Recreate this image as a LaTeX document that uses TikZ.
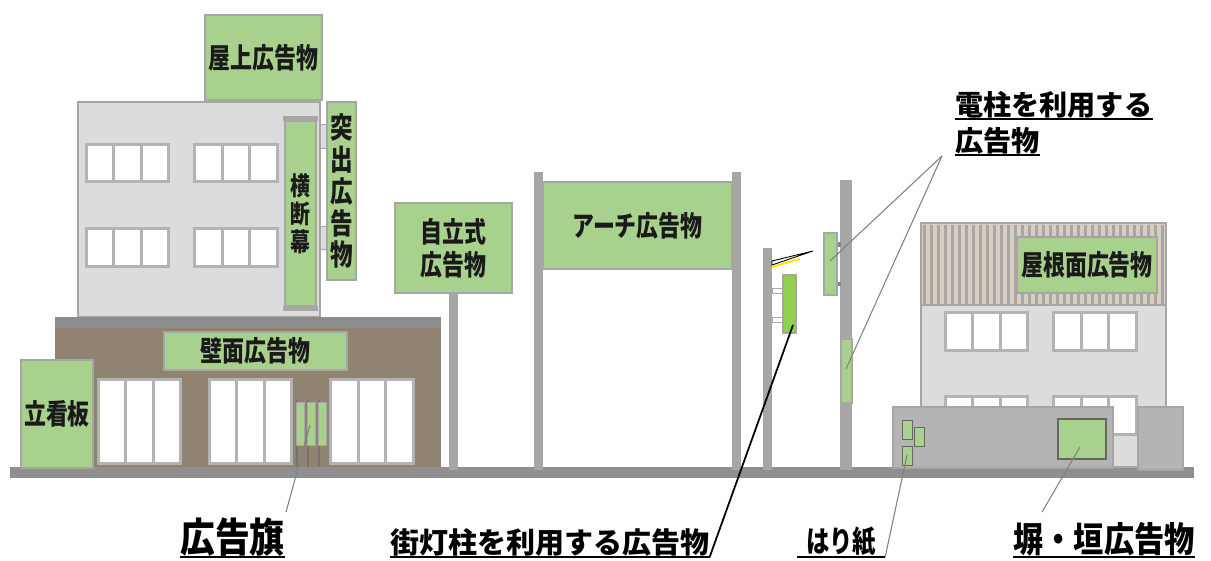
\documentclass[tikz,border=0pt]{standalone}
\usepackage{fontspec}
\newfontfamily\jp{Noto Sans CJK JP}
\newfontfamily\jpm{Noto Sans CJK JP}[FakeStretch=0.86]
\newfontfamily\jpc{Noto Sans CJK JP}[FakeStretch=0.78]
\usepackage{tikz}
\usetikzlibrary{calc}
\usepackage{xcolor}
\definecolor{signgreen}{HTML}{A9D18E}
\definecolor{lampgreen}{HTML}{8FD14F}
\definecolor{edgegray}{HTML}{A6A6A6}
\definecolor{wallgray}{HTML}{DCDCDC}
\definecolor{storebrown}{HTML}{918372}
\definecolor{eavesgray}{HTML}{8C8C8C}
\definecolor{roadgray}{HTML}{8F8F8F}
\definecolor{fencegray}{HTML}{B4B4B4}
\definecolor{roofbeige}{HTML}{D8CDBF}
\definecolor{ink}{HTML}{1A1A1A}
\newcommand{\px}{0.2mm}
% sign board: [options] name, x1, y1, x2, y2, text
\newcommand{\adsign}[7][]{\node[sign,#1,minimum width={(#5-#3)*\px},minimum height={(#6-#4)*\px}] (#2) at ({(#3+#5)/2},{(#4+#6)/2}) {#7};}
% window with three panes
\newcommand{\stwin}[4]{\fill[edgegray!85] (#1,#2) rectangle (#3,#4);
	\foreach \i in {0,1,2} \fill[white] ({#1+3+\i*(#3-#1-3)/3},{#2+3}) rectangle ({#1+(\i+1)*(#3-#1-3)/3},{#4-3});}

\begin{document}
\begin{tikzpicture}[x=\px,y=-\px,
	sign/.style={draw=edgegray,fill=signgreen,line width=1.1pt,inner sep=0pt,align=center,text=ink,
		font=\jpc\bfseries\fontsize{16}{18}\selectfont},
	bldg/.style={draw=edgegray,fill=wallgray,line width=1.1pt},
	pole/.style={fill=edgegray},
	bracket/.style={draw=edgegray,fill=wallgray,line width=0.5pt},
	poster/.style={draw=black!60,fill=signgreen,line width=0.5pt},
	callout/.style={inner sep=0pt,anchor=south west,text=black,font=\jp\bfseries},
	uline/.style={black,line width=0.8pt},
	leader/.style={gray,line width=0.6pt}]
	\useasboundingbox (0,0) rectangle (1211,561);
	
	% road
	\fill[roadgray] (10,467) rectangle (1194,478);
	
	% left building
	\draw[bldg] (78,102) rectangle (320,317);
	\stwin{85}{143}{170}{183}
	\stwin{193}{143}{279}{183}
	\stwin{85}{227}{170}{268}
	\stwin{193}{227}{279}{268}
	\adsign{roofsign}{205}{15}{322}{100}{屋上広告物}
	
	\fill[edgegray] (283,116) rectangle (318,121);
	\fill[edgegray] (283,306) rectangle (318,311);
	\adsign[line width=0.6pt,font=\jpc\bfseries\fontsize{14.5}{16}\selectfont]{banner}{285}{121}{316}{306}{横\\断\\幕}
	
	\filldraw[bracket] (320,124) rectangle (327,148);
	\filldraw[bracket] (320,226) rectangle (327,249);
	\adsign[font=\jpc\bfseries\fontsize{16.5}{18.2}\selectfont]{projsign}{327}{102}{356}{280}{突\\出\\広\\告\\物}
	
	% shop floor
	\fill[eavesgray] (55,317) rectangle (441,328);
	\fill[storebrown] (55,328) rectangle (441,467);
	\adsign{wallsign}{164}{332}{347}{370}{壁面広告物}
	\stwin{97}{378}{182}{465}
	\stwin{208}{378}{293}{465}
	\stwin{329}{378}{415}{465}
	\foreach \fx in {296,307,318} {
		\draw[black!55,line width=0.6pt] (\fx+1,400) -- (\fx+1,467);
		\filldraw[poster,draw=edgegray] (\fx,402) rectangle (\fx+8,445);
	}
	\adsign{standsign}{21}{360}{93}{468}{立看板}
	
	% free standing and arch
	\fill[pole] (449,293) rectangle (458,470);
	\adsign[font=\jpc\bfseries\fontsize{16}{19}\selectfont]{selfsign}{395}{203}{512}{293}{自立式\\広告物}
	\fill[pole] (534,172) rectangle (543,470);
	\fill[pole] (732,172) rectangle (741,470);
	\adsign{archsign}{543}{182}{732}{269}{アーチ広告物}
	
	% street lamp
	\fill[pole] (763,248) rectangle (772,470);
	\draw[yellow!90!orange,line width=1.2pt] (772,267) -- (800,259);
	\filldraw[fill=white,draw=black,line width=0.5pt] (772,261) -- (813,251) -- (772,265) -- cycle;
	\filldraw[bracket,fill=white] (772,288) rectangle (783,293);
	\filldraw[bracket,fill=white] (772,317) rectangle (783,322);
	\adsign[fill=lampgreen,line width=0.6pt]{lampsign}{783}{275}{796}{333}{}
	
	% utility pole
	\fill[pole] (840,180) rectangle (852,470);
	\fill[edgegray!80!black] (837,242) rectangle (841,247);
	\fill[edgegray!80!black] (837,282) rectangle (841,286);
	\adsign[line width=0.6pt]{poletop}{824}{233}{837}{295}{}
	\adsign[line width=0.6pt]{polewrap}{841}{339}{852}{403}{}
	
	% right building
	\draw[bldg] (921,223) rectangle (1166,467);
	\fill[roofbeige] (921,223) rectangle (1166,305);
	\foreach \sx in {923,930,...,1161}
		\fill[edgegray] (\sx,225) rectangle (\sx+3,304);
	\draw[edgegray,line width=1.1pt] (921,223) rectangle (1166,305);
	\adsign[line width=0.6pt]{roofface}{1017}{237}{1157}{293}{屋根面広告物}
	\stwin{944}{311}{1029}{352}
	\stwin{1052}{311}{1138}{352}
	\stwin{944}{395}{1029}{436}
	\stwin{1052}{395}{1138}{436}
	
	% fence
	\filldraw[fill=fencegray,draw=edgegray,line width=0.6pt] (893,407) rectangle (1113,468);
	\filldraw[fill=fencegray,draw=edgegray,line width=0.6pt] (1138,407) rectangle (1183,470);
	\filldraw[poster] (902,420) rectangle (912,439);
	\filldraw[poster] (914,427) rectangle (924,446);
	\filldraw[poster] (902,446) rectangle (912,465);
	\adsign[draw=black!60,line width=0.6pt]{fencesign}{1058}{419}{1106}{459}{}
	
	% callouts
	\node[callout,font=\jpm\bfseries\fontsize{23}{26}\selectfont] (flaglbl) at (180,557) {広告旗};
	\node[callout,font=\jp\bfseries\fontsize{16.5}{20}\selectfont] (lamplbl) at (390,557) {街灯柱を利用する広告物};
	\node[callout,inner xsep=5pt,font=\jpc\bfseries\fontsize{17}{20}\selectfont] (harilbl) at (797,557) {はり紙};
	\node[callout,font=\jpm\bfseries\fontsize{20}{24}\selectfont] (fencelbl) at (1013,557) {塀・垣広告物};
	\node[callout,font=\jp\bfseries\fontsize{16}{20}\selectfont] (polelbl) at (955,119) {電柱を利用する};
	\node[callout,font=\jp\bfseries\fontsize{16}{20}\selectfont] (polelblb) at (955,155) {広告物};
	\foreach \n in {flaglbl,lamplbl,harilbl,fencelbl,polelbl,polelblb}
		\draw[uline] (\n.south west) -- (\n.south east);
	
	\coordinate (flagpt) at (310,425);
	\coordinate (flagend) at (286,512);
	\coordinate (lamppt) at (793,325);
	\coordinate (haript) at (907,455);
	\coordinate (fencept) at (1080,447);
	\coordinate (fenceend) at (1042,512);
	\coordinate (polefork) at (942,156);
	\coordinate (toppt) at (830,261);
	\coordinate (wrappt) at (846,369);
	
	\draw[leader] (flagpt) -- (flagend);
	\draw[black,line width=1pt] (lamppt) -- (lamplbl.south east);
	\draw[leader] (haript) -- (harilbl.south east);
	\draw[leader] (fencept) -- (fenceend);
	\draw[leader] (polefork) -- (toppt);
	\draw[leader] (polefork) -- (wrappt);
\end{tikzpicture}
\end{document}
